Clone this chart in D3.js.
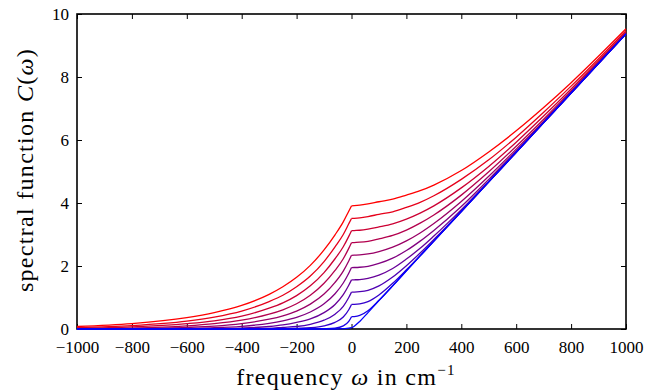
<!DOCTYPE html>
<html>
<head>
<meta charset="utf-8">
<style>
    body { margin: 0; background: #fff; }
    text { font-family: "Liberation Serif", "DejaVu Serif", serif; }
</style>
</head>
<body>
    <div id="chart"></div>

    <script src="https://d3js.org/d3.v7.min.js"></script>
    <script type="text/javascript">
        // frequency grid (cm^-1), 0 is shared by the left and right branch
        var omega = [-1000, -800, -600, -500, -400, -300, -250, -200, -150, -100, -60, -30, -10, 0,
            10, 30, 60, 100, 150, 200, 250, 300, 400, 500, 600, 700, 800, 1000];

        // spectral function, red (top) .. blue (bottom)
        var c0 = [0.08, 0.17, 0.36, 0.52, 0.75, 1.10, 1.34, 1.64, 2.02, 2.51, 2.99, 3.40, 3.74, 3.91,
            3.915, 3.93, 3.97, 4.04, 4.12, 4.25, 4.39, 4.57, 5.03, 5.62, 6.29, 7.03, 7.82, 9.53];
        var c1 = [0.05, 0.11, 0.25, 0.38, 0.57, 0.87, 1.07, 1.34, 1.68, 2.14, 2.61, 3.00, 3.34, 3.51,
            3.515, 3.53, 3.57, 3.64, 3.72, 3.86, 4.02, 4.23, 4.75, 5.37, 6.09, 6.88, 7.71, 9.47];
        var c2 = [0.02, 0.065, 0.17, 0.26, 0.41, 0.66, 0.83, 1.06, 1.37, 1.79, 2.23, 2.61, 2.94, 3.12,
            3.125, 3.135, 3.17, 3.24, 3.34, 3.49, 3.68, 3.91, 4.48, 5.16, 5.93, 6.76, 7.62, 9.42];
        var c3 = [0.01, 0.03, 0.10, 0.17, 0.28, 0.47, 0.61, 0.80, 1.07, 1.45, 1.86, 2.23, 2.56, 2.74,
            2.745, 2.755, 2.785, 2.86, 2.97, 3.14, 3.36, 3.62, 4.25, 4.99, 5.80, 6.66, 7.56, 9.39];
        var c4 = [0.0, 0.013, 0.05, 0.09, 0.17, 0.31, 0.42, 0.57, 0.79, 1.11, 1.48, 1.84, 2.16, 2.34,
            2.345, 2.355, 2.385, 2.46, 2.60, 2.80, 3.05, 3.35, 4.05, 4.85, 5.71, 6.60, 7.52, 9.38];
        var c5 = [0.0, 0.004, 0.02, 0.04, 0.086, 0.18, 0.26, 0.37, 0.54, 0.80, 1.12, 1.46, 1.77, 1.95,
            1.952, 1.96, 1.99, 2.08, 2.25, 2.49, 2.79, 3.13, 3.89, 4.75, 5.65, 6.57, 7.50, 9.37];
        var c6 = [0.0, 0.0, 0.0, 0.01, 0.03, 0.08, 0.13, 0.21, 0.32, 0.52, 0.78, 1.09, 1.39, 1.56,
            1.562, 1.57, 1.61, 1.71, 1.92, 2.22, 2.56, 2.95, 3.79, 4.69, 5.62, 6.55, 7.49, 9.37];
        var c7 = [0.0, 0.0, 0.0, 0.0, 0.0, 0.02, 0.05, 0.08, 0.15, 0.28, 0.47, 0.72, 1.00, 1.17,
            1.172, 1.185, 1.23, 1.37, 1.65, 2.01, 2.41, 2.84, 3.74, 4.67, 5.61, 6.55, 7.49, 9.37];
        var c8 = [0.0, 0.0, 0.0, 0.0, 0.0, 0.0, 0.0, 0.02, 0.04, 0.10, 0.21, 0.38, 0.61, 0.78,
            0.783, 0.80, 0.87, 1.08, 1.45, 1.88, 2.33, 2.79, 3.73, 4.67, 5.61, 6.55, 7.49, 9.37];
        var c9 = [0.0, 0.0, 0.0, 0.0, 0.0, 0.0, 0.0, 0.0, 0.0, 0.01, 0.03, 0.10, 0.24, 0.39,
            0.395, 0.43, 0.58, 0.91, 1.37, 1.85, 2.32, 2.79, 3.73, 4.67, 5.61, 6.55, 7.49, 9.37];
        var c10 = [0.0, 0.0, 0.0, 0.0, 0.0, 0.0, 0.0, 0.0, 0.0, 0.0, 0.0, 0.01, 0.03, 0.04,
            0.09, 0.24, 0.52, 0.90, 1.37, 1.85, 2.32, 2.79, 3.73, 4.67, 5.61, 6.55, 7.49, 9.37];

        var series = [c0, c1, c2, c3, c4, c5, c6, c7, c8, c9, c10];

        var xTicks = [-1000, -800, -600, -400, -200, 0, 200, 400, 600, 800, 1000];
        var yTicks = [0, 2, 4, 6, 8, 10];

        var w = 664;
        var h = 391;
        var padL = 77, padR = 626, padT = 14, padB = 329;
        var zeroIdx = omega.indexOf(0);

        var svg = d3.select('#chart')
            .append('svg')
            .attr('width', w)
            .attr('height', h);

        var x = d3.scaleLinear().domain([-1000, 1000]).range([padL, padR]);
        var y = d3.scaleLinear().domain([0, 10]).range([padB, padT]);

        var color = d3.interpolateRgb('#ff0000', '#0000ff');
        var fmt = d3.format('d');

        // box
        svg.append('rect')
            .attr('x', padL)
            .attr('y', padT)
            .attr('width', padR - padL)
            .attr('height', padB - padT)
            .attr('fill', 'none')
            .attr('stroke', '#000')
            .attr('stroke-width', 1.6);

        // ticks point inward on all four sides
        svg.append('g')
            .attr('transform', 'translate(0,' + padB + ')')
            .call(d3.axisBottom(x).tickValues(xTicks).tickFormat(fmt)
                .tickSizeInner(-5).tickSizeOuter(0).tickPadding(12));
        svg.append('g')
            .attr('transform', 'translate(' + padL + ',0)')
            .call(d3.axisLeft(y).tickValues(yTicks).tickFormat(fmt)
                .tickSizeInner(-5).tickSizeOuter(0).tickPadding(8));
        svg.append('g')
            .attr('transform', 'translate(0,' + padT + ')')
            .call(d3.axisTop(x).tickValues(xTicks).tickSizeInner(-5).tickSizeOuter(0).tickFormat(''));
        svg.append('g')
            .attr('transform', 'translate(' + padR + ',0)')
            .call(d3.axisRight(y).tickValues(yTicks).tickSizeInner(-5).tickSizeOuter(0).tickFormat(''));

        svg.selectAll('.domain').remove();
        svg.selectAll('.tick line').attr('stroke', '#000').attr('stroke-width', 1);
        svg.selectAll('.tick text')
            .attr('font-family', '"Liberation Serif", "DejaVu Serif", serif')
            .attr('font-size', 17)
            .attr('fill', '#000');

        // curves, split at 0 so the cusp stays sharp
        var line = d3.line()
            .x(function (d) { return x(d[0]); })
            .y(function (d) { return y(d[1]); })
            .curve(d3.curveMonotoneX);

        series.forEach(function (s, i) {
            var pts = omega.map(function (o, j) { return [o, s[j]]; });
            [pts.slice(0, zeroIdx + 1), pts.slice(zeroIdx)].forEach(function (part) {
                svg.append('path')
                    .attr('d', line(part))
                    .attr('fill', 'none')
                    .attr('stroke', color(i / (series.length - 1)))
                    .attr('stroke-width', 1.3);
            });
        });

        // axis titles
        var xl = svg.append('text')
            .attr('x', 346)
            .attr('y', 385)
            .attr('text-anchor', 'middle')
            .attr('font-size', 24)
            .attr('letter-spacing', 1.3);
        xl.append('tspan').text('frequency ');
        xl.append('tspan').attr('font-style', 'italic').text('ω');
        xl.append('tspan').text(' in cm');
        xl.append('tspan').attr('font-size', 15).attr('dy', -10).text('−1');

        var yl = svg.append('text')
            .attr('transform', 'translate(33,170) rotate(-90)')
            .attr('text-anchor', 'middle')
            .attr('font-size', 24)
            .attr('letter-spacing', 1.3);
        yl.append('tspan').text('spectral function ');
        yl.append('tspan').attr('font-style', 'italic').text('C');
        yl.append('tspan').text('(');
        yl.append('tspan').attr('font-style', 'italic').text('ω');
        yl.append('tspan').text(')');
    </script>
</body>
</html>
